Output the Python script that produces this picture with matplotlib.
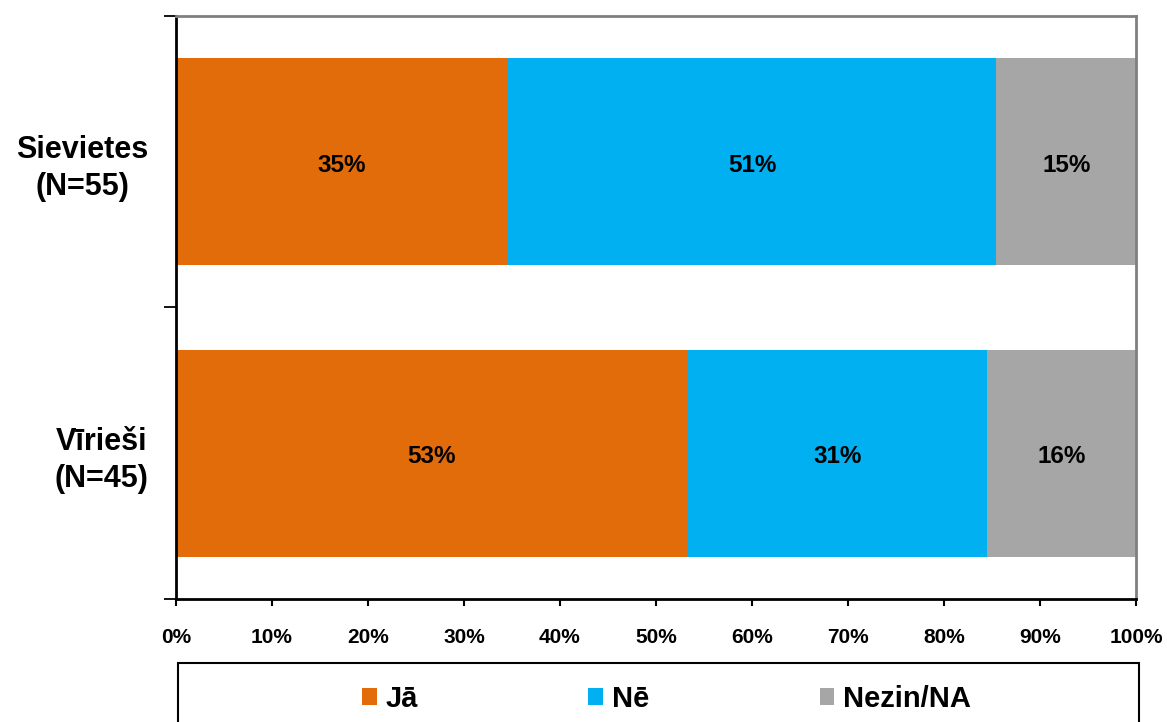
import matplotlib
matplotlib.use('Agg')
import matplotlib.pyplot as plt
from matplotlib.patches import Rectangle, Patch

plt.rcParams['font.family'] = ['Liberation Sans', 'DejaVu Sans']
plt.rcParams['font.weight'] = 'bold'

# Dati (procenti)
groups = ['Vīrieši\n(N=45)', 'Sievietes\n(N=55)']
answers = ['Jā', 'Nē', 'Nezin/NA']
ja = [53.33, 34.55]
ne = [31.11, 50.91]
nezin = [15.56, 14.55]
colors = ['#E36C0A', '#00B0F0', '#A6A6A6']

fig = plt.figure(figsize=(11.67, 7.22), dpi=100)
ax = fig.add_axes([0.1508, 0.1704, 0.8226, 0.8074])

ypos = list(range(len(groups)))
left = [0.0] * len(groups)
for vals, col in zip([ja, ne, nezin], colors):
    bars = ax.barh(ypos, vals, left=left, height=0.71, color=col, edgecolor='none')
    for b, v in zip(bars, vals):
        ax.text(b.get_x() + b.get_width() / 2, b.get_y() + b.get_height() / 2 - 0.012,
                f'{v:.0f}%', ha='center', va='center', fontsize=17.5, fontweight='bold')
    left = [l + v for l, v in zip(left, vals)]

ax.set_xlim(0, 100)
ax.set_ylim(-0.5, 1.5)
ax.set_xticks(range(0, 101, 10))
ax.set_xticklabels([f'{t}%' for t in range(0, 101, 10)], fontsize=15, fontweight='bold')
ax.tick_params(axis='x', direction='out', length=5, width=1.5, pad=16)

ax.set_yticks(ypos)
ax.set_yticklabels(groups, fontsize=22, fontweight='bold')
for lab in ax.get_yticklabels():
    lab.set_multialignment('center')
    lab.set_linespacing(1.3)
ax.set_yticks([-0.5, 0.5, 1.5], minor=True)
ax.tick_params(axis='y', which='major', length=0, pad=20)
ax.tick_params(axis='y', which='minor', direction='out', length=9, width=1.3)

ax.spines['left'].set_linewidth(2)
ax.spines['bottom'].set_linewidth(2)
ax.spines['top'].set_color('#808080')
ax.spines['top'].set_linewidth(2)
ax.spines['right'].set_color('#808080')
ax.spines['right'].set_linewidth(2)

# Leģenda
fig.patches.append(Rectangle((0.1525, -0.05), 0.8235, 0.1317, transform=fig.transFigure,
                             facecolor='white', edgecolor='black', linewidth=1.5))
handles = [Patch(facecolor=c, edgecolor='none') for c in colors]
fig.legend(handles, answers, loc='center', bbox_to_anchor=(0.571, 0.032), ncol=3,
           frameon=False, handlelength=0.5, handleheight=0.5,
           handletextpad=0.3, columnspacing=5.85, prop={'weight': 'bold', 'size': 21})

fig.savefig('out.png', dpi=100)
